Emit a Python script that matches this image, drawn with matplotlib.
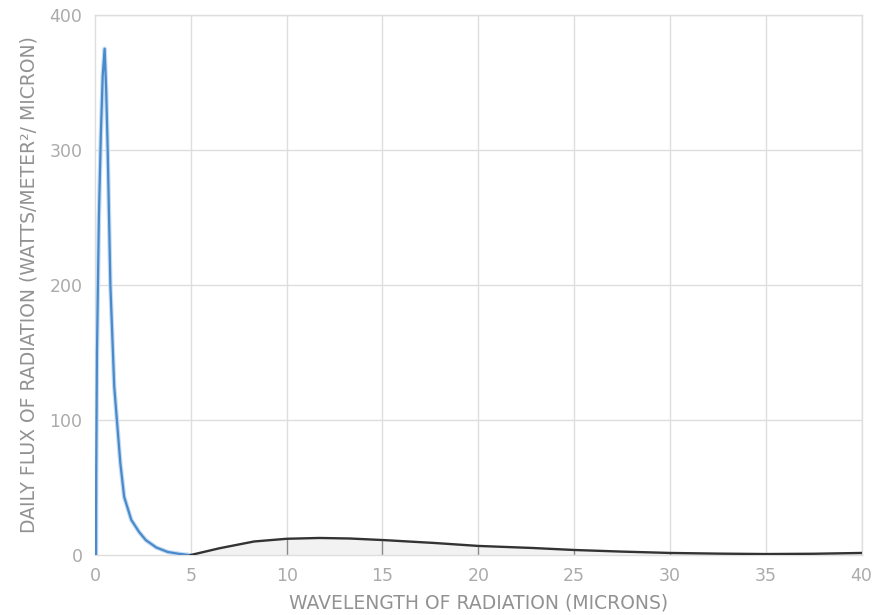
import numpy as np
import matplotlib.pyplot as plt

# incoming solar radiation (short wavelengths)
solar_x = [0.05, 0.06, 0.1, 0.2, 0.3, 0.4, 0.5, 0.58, 0.66, 0.8, 1.0, 1.14,
           1.32, 1.52, 1.89, 2.3, 2.65, 3.2, 3.8, 4.4, 4.9]
solar_y = [0, 60, 150, 250, 310, 355, 375, 345, 300, 200, 125, 100,
           68, 43, 26, 17, 11, 5.5, 2.2, 0.8, 0]

# outgoing terrestrial radiation (long wavelengths)
earth_x = [5, 6.5, 8.3, 10, 11.7, 13.3, 15.1, 17.7, 20, 22.8, 25, 27.5,
           30, 32.5, 35, 37.5, 40]
earth_y = [0, 5, 10, 12, 12.6, 12.2, 11, 8.9, 6.7, 5.2, 3.7, 2.5,
           1.5, 1.0, 0.7, 0.9, 1.5]

xticks = [0, 5, 10, 15, 20, 25, 30, 35, 40]
yticks = [0, 100, 200, 300, 400]

plt.rcParams['font.family'] = ['DejaVu Sans']

fig = plt.figure(figsize=(8.72, 6.15), dpi=100)
ax = fig.add_axes([0.109, 0.0976, 0.879, 0.878])

grid_c = '#dedede'
for x in xticks[1:]:
    ax.axvline(x, color=grid_c, lw=1, zorder=0)
for y in yticks[1:]:
    ax.axhline(y, color=grid_c, lw=1, zorder=0)

# light shading under the long-wave curve
ax.fill_between(earth_x, earth_y, 0, color='#f2f2f2', zorder=1)
for x in xticks[2:]:
    ax.vlines(x, 0, np.interp(x, earth_x, earth_y), color='#8a8a8a', lw=1, zorder=2)

ax.plot(solar_x, solar_y, color='#c4dcf2', lw=3.2, zorder=3)
ax.plot(solar_x, solar_y, color='#4a8acb', lw=1.6, zorder=4)
ax.plot(earth_x, earth_y, color='#333333', lw=1.7, zorder=4)

ax.set_xlim(0, 40)
ax.set_ylim(0, 400)
ax.set_xticks(xticks)
ax.set_yticks(yticks)
ax.tick_params(length=0, colors='#ababab', labelsize=12.5, pad=9)
for s in ax.spines.values():
    s.set_color(grid_c)
    s.set_linewidth(1)

ax.set_xlabel('WAVELENGTH OF RADIATION (MICRONS)', color='#929292',
              fontsize=13.5, labelpad=6)
ax.set_ylabel('DAILY FLUX OF RADIATION (WATTS/METER\u00b2/ MICRON)', color='#929292',
              fontsize=13.5, labelpad=8)

fig.savefig('out.png', dpi=100)
